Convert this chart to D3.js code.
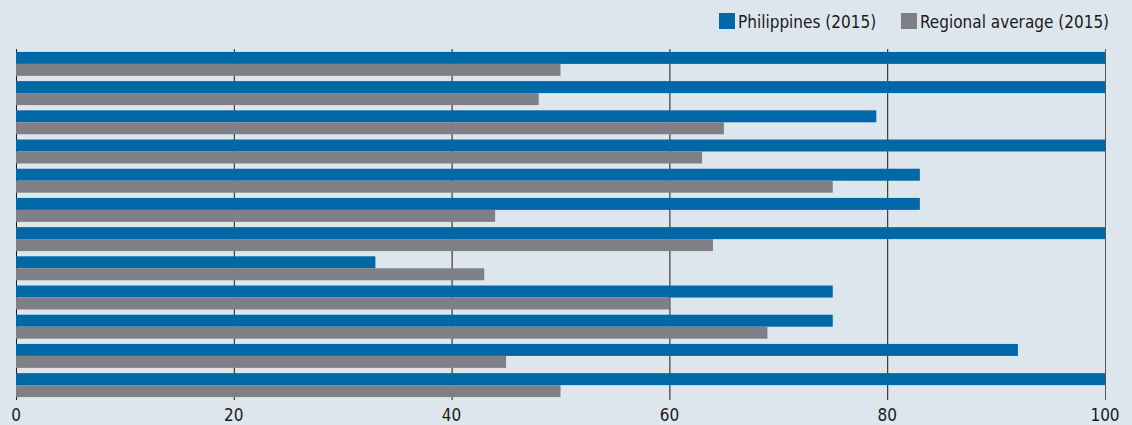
<!DOCTYPE html>
<html>
<head>
<meta charset="utf-8">
<script src="https://cdn.jsdelivr.net/npm/d3@7"></script>
<style>
  body { margin: 0; background: #dee6ed; }
  svg { display: block; font-family: "DejaVu Sans Condensed", "Liberation Sans Narrow", "Open Sans", sans-serif; font-stretch: condensed; }
</style>
</head>
<body>
<svg width="1132" height="425"></svg>
<script>
// one row per indicator, labels are not shown in the chart
const categories = ['1', '2', '3', '4', '5', '6', '7', '8', '9', '10', '11', '12']
const philippines = [100, 100, 79, 100, 83, 83, 100, 33, 75, 75, 92, 100]
const regional = [50, 48, 65, 63, 75, 44, 64, 43, 60, 69, 45, 50]
const seriesNames = ['Philippines (2015)', 'Regional average (2015)']
const xTicks = [0, 20, 40, 60, 80, 100]

const colors = ['#0068a6', '#7f8085']

const svg = d3.select('svg')
const W = 1132, H = 425
const margin = {top: 49, right: 27, bottom: 25, left: 16}

svg.append('rect').attr('width', W).attr('height', H).attr('fill', '#dee6ed')

const x = d3.scaleLinear().domain([0, 100]).range([margin.left, W - margin.right])
const y = d3.scaleBand().domain(categories)
  .range([margin.top, H - margin.bottom])
  .paddingInner(0.18).paddingOuter(0.1)
const y1 = d3.scaleBand().domain([0, 1]).range([0, y.bandwidth()])

// grid lines sit behind the bars
const grid = svg.append('g')
grid.selectAll('line')
  .data(xTicks)
  .enter().append('line')
    .attr('x1', d => x(d) + 0.5).attr('x2', d => x(d) + 0.5)
    .attr('y1', margin.top).attr('y2', H - margin.bottom)
    .attr('stroke', d => d === 100 ? '#555' : '#1a1a1a')
    .attr('stroke-width', 1)

const rows = svg.append('g')
  .selectAll('g')
  .data(categories.map((c, i) => ({cat: c, vals: [philippines[i], regional[i]]})))
  .enter().append('g')
    .attr('transform', d => 'translate(0,' + y(d.cat) + ')')

rows.selectAll('rect')
  .data(d => d.vals)
  .enter().append('rect')
    .attr('x', x(0))
    .attr('y', (d, i) => y1(i))
    .attr('width', d => x(d) - x(0))
    .attr('height', y1.bandwidth())
    .attr('fill', (d, i) => colors[i])

// tick labels along the bottom
svg.append('g')
  .selectAll('text')
  .data(xTicks)
  .enter().append('text')
    .attr('x', d => x(d))
    .attr('y', 421)
    .attr('text-anchor', 'middle')
    .attr('font-size', 17)
    .attr('fill', '#1a1a1a')
    .text(d => d)

// legend
const legendX = [719, 901]
const legend = svg.append('g')
  .selectAll('g')
  .data(seriesNames)
  .enter().append('g')
    .attr('transform', (d, i) => 'translate(' + legendX[i] + ',13)')

legend.append('rect')
  .attr('width', 16).attr('height', 16)
  .attr('fill', (d, i) => colors[i])

legend.append('text')
  .attr('x', 19).attr('y', 15)
  .attr('font-size', 17)
  .attr('fill', '#1a1a1a')
  .text(d => d)
</script>
</body>
</html>
